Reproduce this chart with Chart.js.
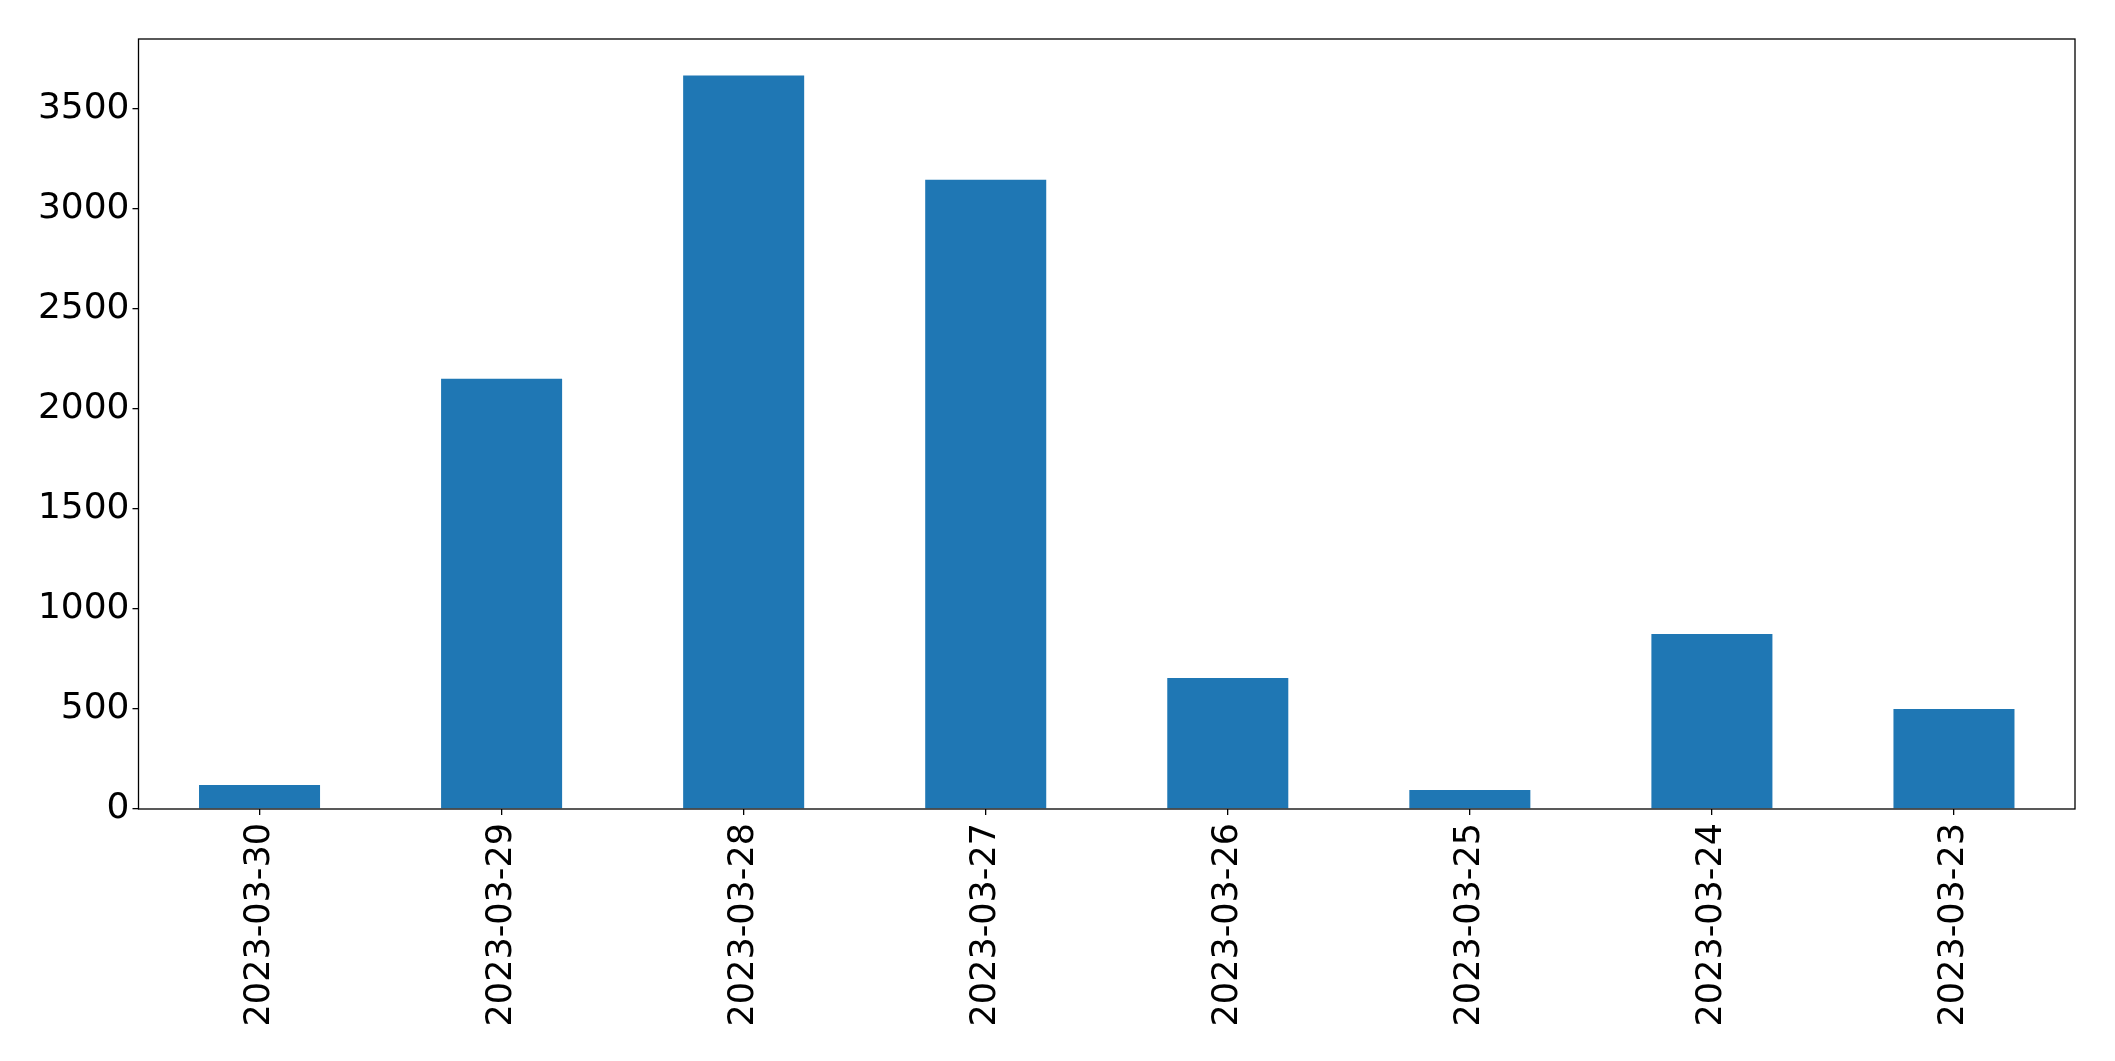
<!DOCTYPE html>
<html>
<head>
<meta charset="utf-8">
<script src="https://cdn.jsdelivr.net/npm/chart.js@4.4.1/dist/chart.umd.min.js"></script>
<style>
  html, body { margin: 0; padding: 0; background: #fff; }
  #wrap { width: 2115px; height: 1061px; }
</style>
</head>
<body>
<div id="wrap"><canvas id="chart" width="2115" height="1061"></canvas></div>
<script>
  var dates = ['2023-03-30', '2023-03-29', '2023-03-28', '2023-03-27', '2023-03-26', '2023-03-25', '2023-03-24', '2023-03-23'];
  var counts = [120, 2150, 3665, 3145, 655, 95, 875, 500];
  var yTicks = [0, 500, 1000, 1500, 2000, 2500, 3000, 3500];
  var yMax = 3848;

  // matplotlib style frame round the plot area
  var frame = {
    id: 'frame',
    afterDraw: function(c) {
      var a = c.chartArea, g = c.ctx;
      g.save();
      g.strokeStyle = '#000';
      g.lineWidth = 1.3;
      g.strokeRect(a.left, a.top, a.right - a.left, a.bottom - a.top);
      g.restore();
    }
  };

  Chart.defaults.font.family = 'DejaVu Sans';
  Chart.defaults.color = '#000';

  var ctx = new Chart(document.getElementById('chart'), {
    type: 'bar',
    data: {
      labels: dates,
      datasets: [{
        data: counts,
        backgroundColor: '#1f77b4',
        borderWidth: 0,
        categoryPercentage: 1,
        barPercentage: 0.5
      }]
    },
    options: {
      responsive: false,
      animation: false,
      layout: { padding: { top: 39, right: 40, left: 0, bottom: 0 } },
      plugins: { legend: { display: false }, tooltip: { enabled: false } },
      scales: {
        x: {
          grid: { display: true, offset: false, drawOnChartArea: false, drawTicks: true, tickLength: 6, color: '#000', lineWidth: 1.3 },
          border: { display: false },
          ticks: { minRotation: 90, maxRotation: 90, autoSkip: false, padding: 8, font: { size: 35 } },
          afterFit: function(s) { s.height = 252; }
        },
        y: {
          min: 0,
          max: yMax,
          grid: { display: true, drawOnChartArea: false, drawTicks: true, tickLength: 6, color: '#000', lineWidth: 1.3 },
          border: { display: false },
          ticks: { padding: 3, font: { size: 36 }, callback: function(v) { return String(v); } },
          afterBuildTicks: function(s) { s.ticks = yTicks.map(function(v) { return { value: v }; }); },
          afterFit: function(s) { s.width = 138.5; }
        }
      }
    },
    plugins: [frame]
  });
</script>
</body>
</html>
